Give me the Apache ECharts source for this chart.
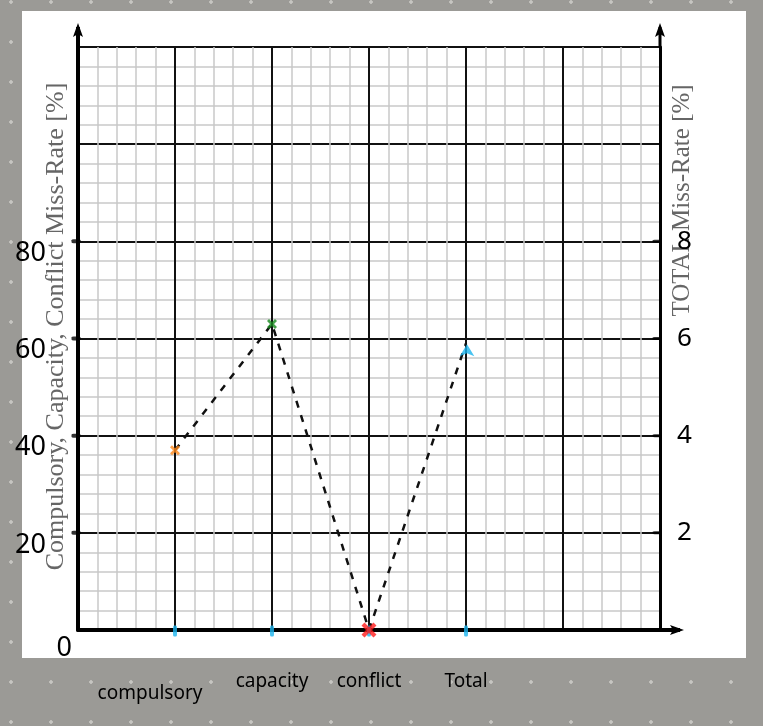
<!DOCTYPE html>
<html>
<head>
<meta charset="utf-8">
<script src="https://cdn.jsdelivr.net/npm/echarts@6/dist/echarts.min.js"></script>
<style>
  html, body { margin: 0; padding: 0; }
  body {
    width: 763px; height: 726px; overflow: hidden; position: relative;
    background-color: #9b9a96;
    background-image: radial-gradient(circle, #c6c5c1 1.5px, transparent 2px);
    background-size: 40px 40px;
    background-position: -9px -18px;
  }
  #paper { position: absolute; left: 22px; top: 11px; width: 724px; height: 647px; background: #fff; }
  #chart { position: absolute; left: 0; top: 0; width: 763px; height: 726px; }
</style>
</head>
<body>
<div id="paper"></div>
<div id="chart"></div>
<script>
// data
const categories = ['compulsory', 'capacity', 'conflict', 'Total'];
const categoryPos = [1, 2, 3, 4];
const missRate = [37, 63, 0];       // compulsory, capacity, conflict (left axis, %)
const totalMissRate = 5.9;          // total (right axis, %)
const leftTicks = [0, 20, 40, 60, 80];
const rightTicks = [2, 4, 6, 8];
const markColors = ['#ff8a1c', '#168a1e', '#ff1c1c'];

const chart = echarts.init(document.getElementById('chart'));

const xMark = 'path://M2,0 L5,3 L8,0 L10,2 L7,5 L10,8 L8,10 L5,7 L2,10 L0,8 L3,5 L0,2 Z';
const dashed = { color: '#111', width: 2.5, type: [7, 8] };
const hand = 'Noto Sans';

const option = {
  animation: false,
  backgroundColor: 'transparent',
  grid: { left: 78, right: 103, top: 47, bottom: 96, containLabel: false, outerBoundsMode: 'none' },
  xAxis: {
    type: 'value', min: 0, max: 6, interval: 1,
    axisLine: { show: true, onZero: false, lineStyle: { color: '#000', width: 4 } },
    axisTick: { show: false },
    splitLine: { show: true, lineStyle: { color: '#111', width: 2 } },
    minorTick: { show: false, splitNumber: 5 },
    minorSplitLine: { show: true, lineStyle: { color: '#c9c9c9', width: 1.5 } },
    axisLabel: {
      margin: 42, fontFamily: hand, fontSize: 19, color: '#000',
      formatter: v => {
        const i = categoryPos.indexOf(v);
        if (i < 0) return '';
        return i === 0 ? '{c|' + categories[i] + '}' : categories[i];
      },
      rich: { c: { fontFamily: hand, fontSize: 19, color: '#000', padding: [12, 50, 0, 0] } }
    }
  },
  yAxis: [
    {
      type: 'value', min: 0, max: 120, interval: 20,
      name: 'Compulsory, Capacity, Conflict Miss-Rate [%]',
      nameLocation: 'middle', nameRotate: 90, nameGap: 9, nameMoveOverlap: false,
      nameTextStyle: { fontFamily: 'Liberation Serif', fontSize: 26, color: '#666', padding: [0, 0, 0, 24] },
      axisLine: { show: true, onZero: false, lineStyle: { color: '#000', width: 4 } },
      axisTick: { show: false },
      splitLine: { show: true, lineStyle: { color: '#111', width: 2 } },
      minorTick: { show: false, splitNumber: 5 },
      minorSplitLine: { show: true, lineStyle: { color: '#c9c9c9', width: 1.5 } },
      axisLabel: {
        margin: 6, verticalAlign: 'middle',
        formatter: v => {
          if (v === 0) return '{z|0}';
          return leftTicks.includes(v) ? '{n|' + v + '}' : '';
        },
        rich: {
          z: { fontFamily: hand, fontSize: 27, color: '#000', padding: [36, 0, 0, 0] },
          n: { fontFamily: hand, fontSize: 27, color: '#000', padding: [24, 26, 0, 0] }
        }
      }
    },
    {
      type: 'value', min: 0, max: 12, interval: 2, position: 'right',
      name: 'TOTAL Miss-Rate [%]',
      nameLocation: 'middle', nameRotate: 90, nameGap: 10, nameMoveOverlap: false,
      nameTextStyle: { fontFamily: 'Liberation Serif', fontSize: 25, color: '#666', padding: [0, 0, 0, 276] },
      axisLine: { show: true, onZero: false, lineStyle: { color: '#000', width: 3 } },
      axisTick: { show: false },
      splitLine: { show: false },
      axisLabel: {
        margin: 17, fontFamily: hand, fontSize: 26, color: '#000',
        formatter: v => (rightTicks.includes(v) ? String(v) : '')
      }
    }
  ],
  series: [
    {
      type: 'line', yAxisIndex: 0, symbol: 'none', z: 3,
      data: missRate.map((v, i) => [categoryPos[i], v]),
      lineStyle: dashed
    },
    {
      type: 'line', yAxisIndex: 1, symbol: 'none', z: 3,
      data: [[categoryPos[2], missRate[2] / 10], [categoryPos[3], totalMissRate]],
      lineStyle: dashed
    },
    // left axis tick marks
    {
      type: 'scatter', yAxisIndex: 0, symbol: 'roundRect', symbolSize: [9, 4], symbolOffset: [-2, 0], z: 4,
      itemStyle: { color: '#000' },
      data: leftTicks.filter(v => v > 0).map(v => [0, v])
    },
    // right axis tick marks
    {
      type: 'scatter', yAxisIndex: 1, symbol: 'roundRect', symbolSize: [9, 3], symbolOffset: [-3, 0], z: 4,
      itemStyle: { color: '#000' },
      data: rightTicks.map(v => [6, v])
    },
    // category ticks on x axis
    {
      type: 'scatter', yAxisIndex: 0, symbol: 'roundRect', symbolSize: [4, 11], symbolOffset: [0, 1], z: 4,
      clip: false, itemStyle: { color: '#1cb4ee' },
      data: categoryPos.map(p => [p, 0])
    },
    // miss-rate marks
    {
      type: 'scatter', yAxisIndex: 0, symbol: xMark, z: 5, clip: false,
      data: missRate.map((v, i) => ({
        value: [categoryPos[i], v],
        symbolSize: i === 2 ? 15 : 10,
        itemStyle: { color: markColors[i] }
      }))
    },
    {
      type: 'scatter', yAxisIndex: 1, symbol: 'arrow', symbolSize: [11, 12], symbolOffset: [1, 1], z: 5,
      itemStyle: { color: '#1cb4ee' },
      data: [[categoryPos[3], totalMissRate]]
    }
  ]
};

chart.setOption(option);

// arrow heads past the ends of the three axis lines
const top0 = chart.convertToPixel({ gridIndex: 0 }, [0, 120]);
const top1 = chart.convertToPixel({ gridIndex: 0 }, [6, 120]);
const end0 = chart.convertToPixel({ gridIndex: 0 }, [6, 0]);
const ext = 24;
const upArrow = (x, y, w) => [
  { type: 'line', shape: { x1: x, y1: y, x2: x, y2: y - ext + 4 }, style: { stroke: '#000', lineWidth: w } },
  { type: 'polygon', shape: { points: [[x, y - ext], [x - 5, y - ext + 14], [x, y - ext + 11], [x + 5, y - ext + 14]] }, style: { fill: '#000' } }
];
chart.setOption({
  graphic: [
    ...upArrow(top0[0], top0[1], 4),
    ...upArrow(top1[0], top1[1], 3),
    { type: 'line', shape: { x1: end0[0], y1: end0[1], x2: end0[0] + ext - 4, y2: end0[1] }, style: { stroke: '#000', lineWidth: 4 } },
    { type: 'polygon', shape: { points: [[end0[0] + ext, end0[1]], [end0[0] + ext - 14, end0[1] - 5], [end0[0] + ext - 11, end0[1]], [end0[0] + ext - 14, end0[1] + 5]] }, style: { fill: '#000' } }
  ]
});
</script>
</body>
</html>
